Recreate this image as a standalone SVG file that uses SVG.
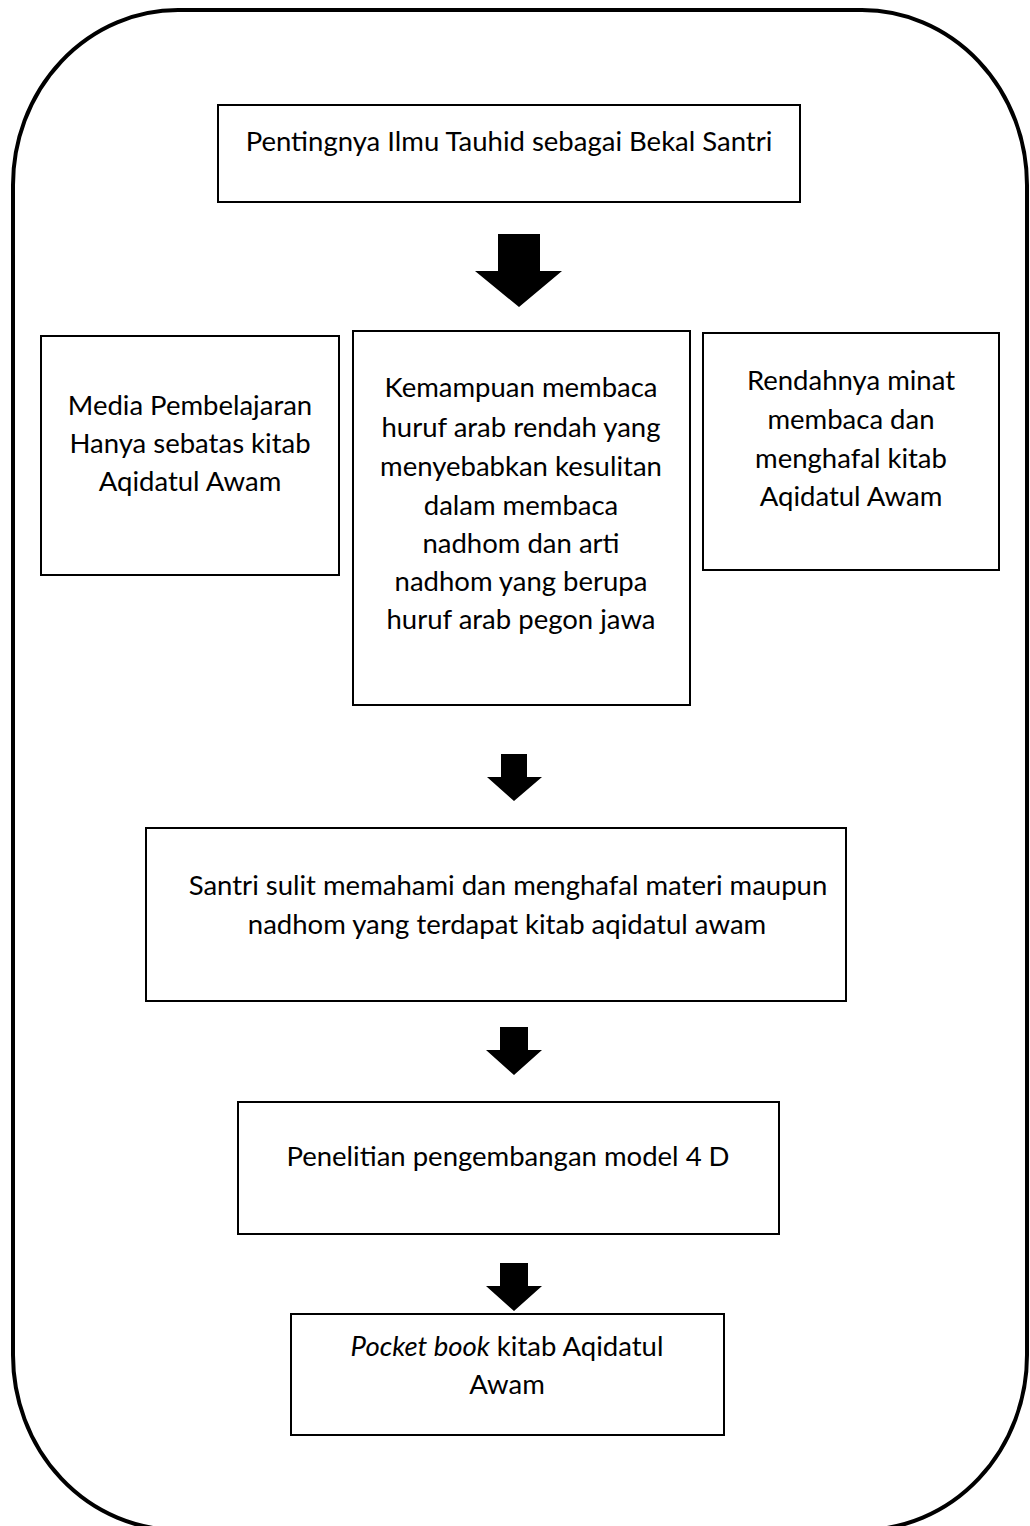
<svg xmlns="http://www.w3.org/2000/svg" width="1030" height="1526" viewBox="0 0 1030 1526">
<style>
.box{fill:#fff;stroke:#000;stroke-width:2}
.t{font-family:Lato,"Liberation Sans",sans-serif;font-size:27.5px;fill:#000;text-anchor:middle}
.arr{fill:#000}
</style>
<rect width="1030" height="1526" fill="#fff"/>
<rect id="frame" x="13" y="10" width="1014" height="1520" rx="165" ry="175" fill="none" stroke="#000" stroke-width="4"/>
<g id="n1"><rect class="box" x="218" y="105" width="582" height="97"/>
<text class="t" x="509" y="151">Pentingnya Ilmu Tauhid sebagai Bekal Santri</text></g>
<g id="n2"><rect class="box" x="41" y="336" width="298" height="239"/>
<text class="t"><tspan x="190" y="415">Media Pembelajaran</tspan><tspan x="190" y="453">Hanya sebatas kitab</tspan><tspan x="190" y="491">Aqidatul Awam</tspan></text></g>
<g id="n3"><rect class="box" x="353" y="331" width="337" height="374"/>
<text class="t"><tspan x="521" y="397">Kemampuan membaca</tspan><tspan x="521" y="437">huruf arab rendah yang</tspan><tspan x="521" y="476">menyebabkan kesulitan</tspan><tspan x="521" y="515">dalam membaca</tspan><tspan x="521" y="553">nadhom dan arti</tspan><tspan x="521" y="591">nadhom yang berupa</tspan><tspan x="521" y="629">huruf arab pegon jawa</tspan></text></g>
<g id="n4"><rect class="box" x="703" y="333" width="296" height="237"/>
<text class="t"><tspan x="851" y="390">Rendahnya minat</tspan><tspan x="851" y="429">membaca dan</tspan><tspan x="851" y="468">menghafal kitab</tspan><tspan x="851" y="506">Aqidatul Awam</tspan></text></g>
<g id="n5"><rect class="box" x="146" y="828" width="700" height="173"/>
<text class="t"><tspan x="508" y="895">Santri sulit memahami dan menghafal materi maupun</tspan><tspan x="507" y="934">nadhom yang terdapat kitab aqidatul awam</tspan></text></g>
<g id="n6"><rect class="box" x="238" y="1102" width="541" height="132"/>
<text class="t" x="508" y="1166">Penelitian pengembangan model 4 D</text></g>
<g id="n7"><rect class="box" x="291" y="1314" width="433" height="121"/>
<text class="t"><tspan x="507" y="1356"><tspan font-style="italic">Pocket book</tspan> kitab Aqidatul</tspan><tspan x="507" y="1394">Awam</tspan></text></g>
<g id="connectors">
<polygon class="arr" points="498,234 540,234 540,271 562,271 519,307 475,271 498,271"/>
<polygon class="arr" points="501,754 527,754 527,777 542,777 514,801 487,777 501,777"/>
<polygon class="arr" points="500,1027 528,1027 528,1050 542,1050 514,1075 486,1050 500,1050"/>
<polygon class="arr" points="500,1263 528,1263 528,1286 542,1286 514,1311 486,1286 500,1286"/>
</g>
</svg>
